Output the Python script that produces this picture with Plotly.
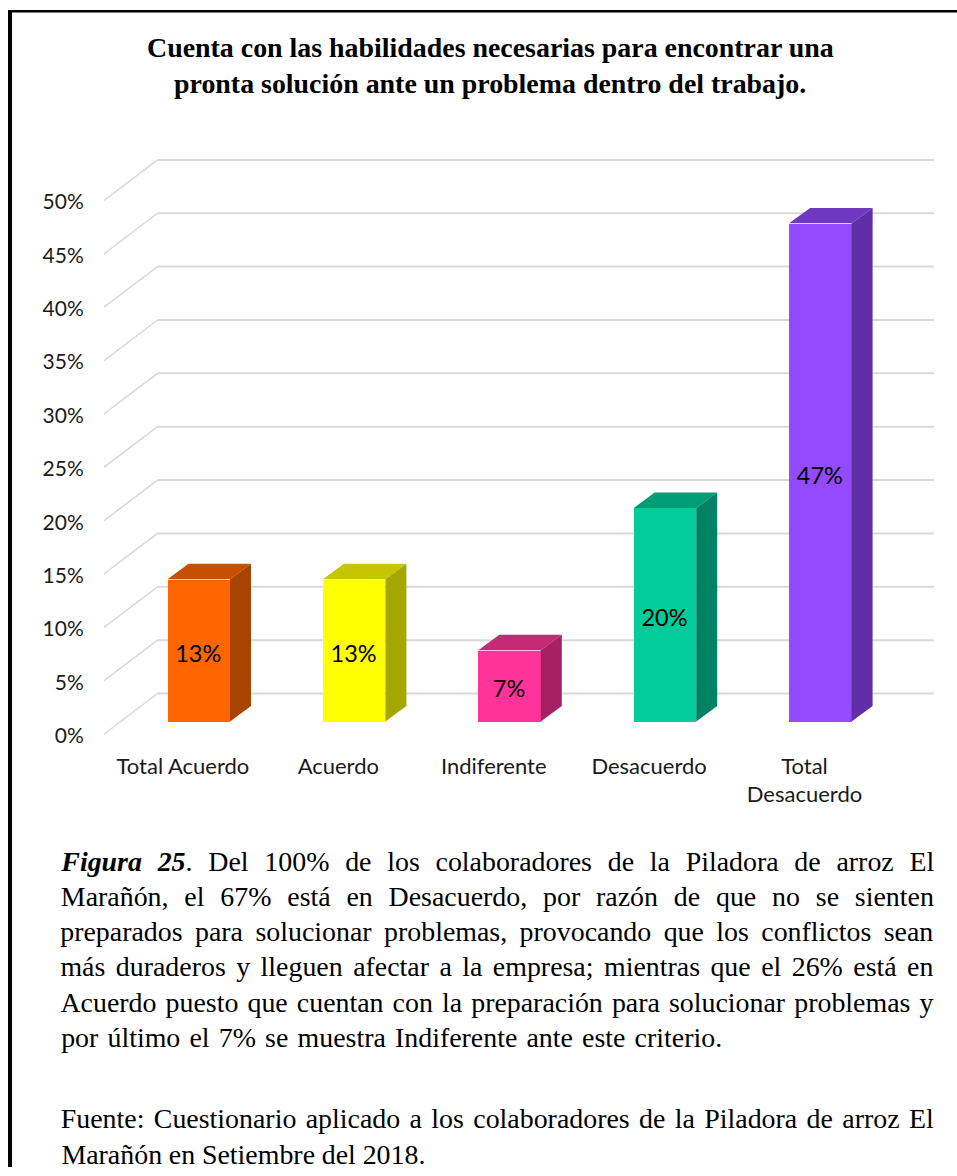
import json
import plotly.graph_objects as go

# ---------- data ----------
categories = ["Total Acuerdo", "Acuerdo", "Indiferente", "Desacuerdo", "Total<br>Desacuerdo"]
values = [13.33, 13.33, 6.67, 20.0, 46.67]
value_labels = ["13%", "13%", "7%", "20%", "47%"]
front_colors = ["#FF6600", "#FFFF00", "#FF3399", "#00CC99", "#944BFF"]
top_colors = ["#C65000", "#C6C600", "#C62A76", "#009E77", "#7038C0"]
side_colors = ["#A84300", "#A6A600", "#A62163", "#008263", "#602EA6"]
axis_ticks = [0, 5, 10, 15, 20, 25, 30, 35, 40, 45, 50]
title_lines = [
    "Cuenta con las habilidades necesarias para encontrar una",
    "pronta solución ante un problema dentro del trabajo.",
]
caption_lines = [
    ("<b><i>Figura 25</i></b>. Del 100% de los colaboradores de la Piladora de arroz El", 873),
    ("Marañón, el 67% está en Desacuerdo, por razón de que no se sienten", 873),
    ("preparados para solucionar problemas, provocando que los conflictos sean", 873),
    ("más duraderos y lleguen afectar a la empresa; mientras que el 26% está en", 873),
    ("Acuerdo puesto que cuentan con la preparación para solucionar problemas y", 873),
    ("por último el 7% se muestra Indiferente ante este criterio.", 661),
]
source_lines = [
    ("Fuente: Cuestionario aplicado a los colaboradores de la Piladora de arroz El", 873),
    ("Marañón en Setiembre del 2018.", 364),
]

# ---------- layout geometry ----------
W, H = 957, 1176
YF = 1176 / 1170                      # vertical calibration of the rendered page
PX_L, PX_R, PX_T, PX_B = 104, 934, 150, 740
CAT_X0, CAT_STEP = 198.75, 155.4      # pixel centre of first bar, spacing
Y0_PX, Y_SCALE = 723.3, 10.7          # pixel of value 0 on bar plane, px per %

bar_w = 62.5 / CAT_STEP
bar_dx, bar_dy = 21 / CAT_STEP, 15.5 / Y_SCALE     # depth of the bars
wall_dy = 28 / Y_SCALE                              # bars plane -> back wall
floor_dy = 12.7 / Y_SCALE                           # bars plane -> front edge
tick_label_dy = 14.2 / Y_SCALE                      # bars plane -> axis label centre
wall_x = (157.5 - CAT_X0) / CAT_STEP
edge_x = (PX_L - CAT_X0) / CAT_STEP
right_x = (PX_R - CAT_X0) / CAT_STEP
y_bottom = (Y0_PX - PX_B) / Y_SCALE
y_top = (Y0_PX - PX_T) / Y_SCALE
label_shift = -0.102
value_label_dy = 5.7 / Y_SCALE
value_label_dx = -0.5 / CAT_STEP

def py(y_px):
    return 1 - y_px * YF / H

xs = list(range(len(categories)))
GRID = "#D9D9D9"
SANS = "Lato"
SERIF = "Liberation Serif"

fig = go.Figure()

fig.add_trace(go.Bar(
    x=xs, y=values, width=bar_w, marker=dict(color=front_colors, line=dict(width=0)),
    showlegend=False, hoverinfo="skip",
))

for x, v, tc, sc in zip(xs, values, top_colors, side_colors):
    xl, xr = x - bar_w / 2, x + bar_w / 2
    fig.add_trace(go.Scatter(
        x=[xl, xr, xr + bar_dx, xl + bar_dx, xl], y=[v, v, v + bar_dy, v + bar_dy, v],
        fill="toself", fillcolor=tc, mode="lines", line=dict(width=0),
        showlegend=False, hoverinfo="skip",
    ))
    fig.add_trace(go.Scatter(
        x=[xr, xr + bar_dx, xr + bar_dx, xr, xr], y=[0, bar_dy, v + bar_dy, v, 0],
        fill="toself", fillcolor=sc, mode="lines", line=dict(width=0),
        showlegend=False, hoverinfo="skip",
    ))

fig.add_trace(go.Scatter(
    x=[x + value_label_dx for x in xs], y=[v / 2 - value_label_dy for v in values],
    mode="text", text=value_labels, textposition="middle center",
    textfont=dict(family=SANS, size=23.5, color="#000000"),
    showlegend=False, hoverinfo="skip",
))

shapes = []
for t in axis_ticks:
    # back-wall line and side-wall diagonal, kept under the bars
    shapes.append(dict(type="line", layer="below", xref="x", yref="y",
                       x0=wall_x, x1=right_x, y0=t + wall_dy, y1=t + wall_dy,
                       line=dict(color=GRID, width=2)))
    shapes.append(dict(type="line", layer="below", xref="x", yref="y",
                       x0=edge_x, x1=wall_x, y0=t - floor_dy, y1=t + wall_dy,
                       line=dict(color=GRID, width=1.5)))

# page frame
for x0, y0, x1, y1 in [(8, 10, 12, H * 1.01), (8, 10, W, 12.5)]:
    shapes.append(dict(type="rect", xref="paper", yref="paper", layer="above",
                       x0=x0 / W, x1=x1 / W, y0=py(y0), y1=max(py(y1), 0),
                       fillcolor="#000000", line=dict(width=0)))

annotations = []
def line_note(text, x_px, y_px, size, anchor="left"):
    annotations.append(dict(text=text, xref="paper", yref="paper", showarrow=False,
                            x=x_px / W, y=py(y_px), xanchor=anchor, yanchor="middle",
                            font=dict(family=SERIF, size=size, color="#000000"),
                            borderpad=0, borderwidth=0))

for text, y in zip(title_lines, [48, 84]):
    line_note("<b>" + text + "</b>", 490.5, y, 27.9, "center")

CAPTION_L = 61
targets = {}
def caption(lines, y_start, step):
    for i, (text, width) in enumerate(lines):
        line_note(text, CAPTION_L + width / 2, y_start + i * step, 27.9, "center")
        plain = text.replace("<b>", "").replace("</b>", "").replace("<i>", "").replace("</i>", "")
        targets[plain] = width

caption(caption_lines, 863.5, 35.3)
caption(source_lines, 1121.5, 35.5)

fig.update_layout(
    width=W, height=H, autosize=False, margin=dict(l=0, r=0, t=0, b=0),
    paper_bgcolor="#FFFFFF", plot_bgcolor="rgba(0,0,0,0)", showlegend=False,
    shapes=shapes, annotations=annotations, bargap=0,
    xaxis=dict(domain=[PX_L / W, PX_R / W], range=[edge_x, right_x], showgrid=False,
               zeroline=False, showline=False,
               tickmode="array", tickvals=[x + label_shift for x in xs], ticktext=categories,
               ticks="outside", ticklen=8, tickcolor="rgba(0,0,0,0)", tickangle=0,
               tickfont=dict(family=SANS, size=22, color="#1A1A1A")),
    yaxis=dict(domain=[py(PX_B), py(PX_T)], range=[y_bottom, y_top], showgrid=False,
               zeroline=False, showline=False,
               tickmode="array", tickvals=[t - tick_label_dy for t in axis_ticks],
               ticktext=[f"{t}%" for t in axis_ticks],
               ticks="outside", ticklen=15, tickcolor="rgba(0,0,0,0)",
               tickfont=dict(family=SANS, size=21, color="#1A1A1A")),
)

# justify the paragraph lines the way the source document does
justify_js = """
document.body.style.margin = '0';
(function () {
  var targets = %s;
  document.querySelectorAll('text.annotation-text').forEach(function (el) {
    var s = el.textContent;
    if (!(s in targets)) return;
    var n = s.split(' ').length - 1;
    el.style.wordSpacing = ((targets[s] - el.getComputedTextLength()) / n) + 'px';
  });
})();
""" % json.dumps(targets, ensure_ascii=False)

fig.write_html("out.html", post_script=justify_js, config={"displayModeBar": False})
